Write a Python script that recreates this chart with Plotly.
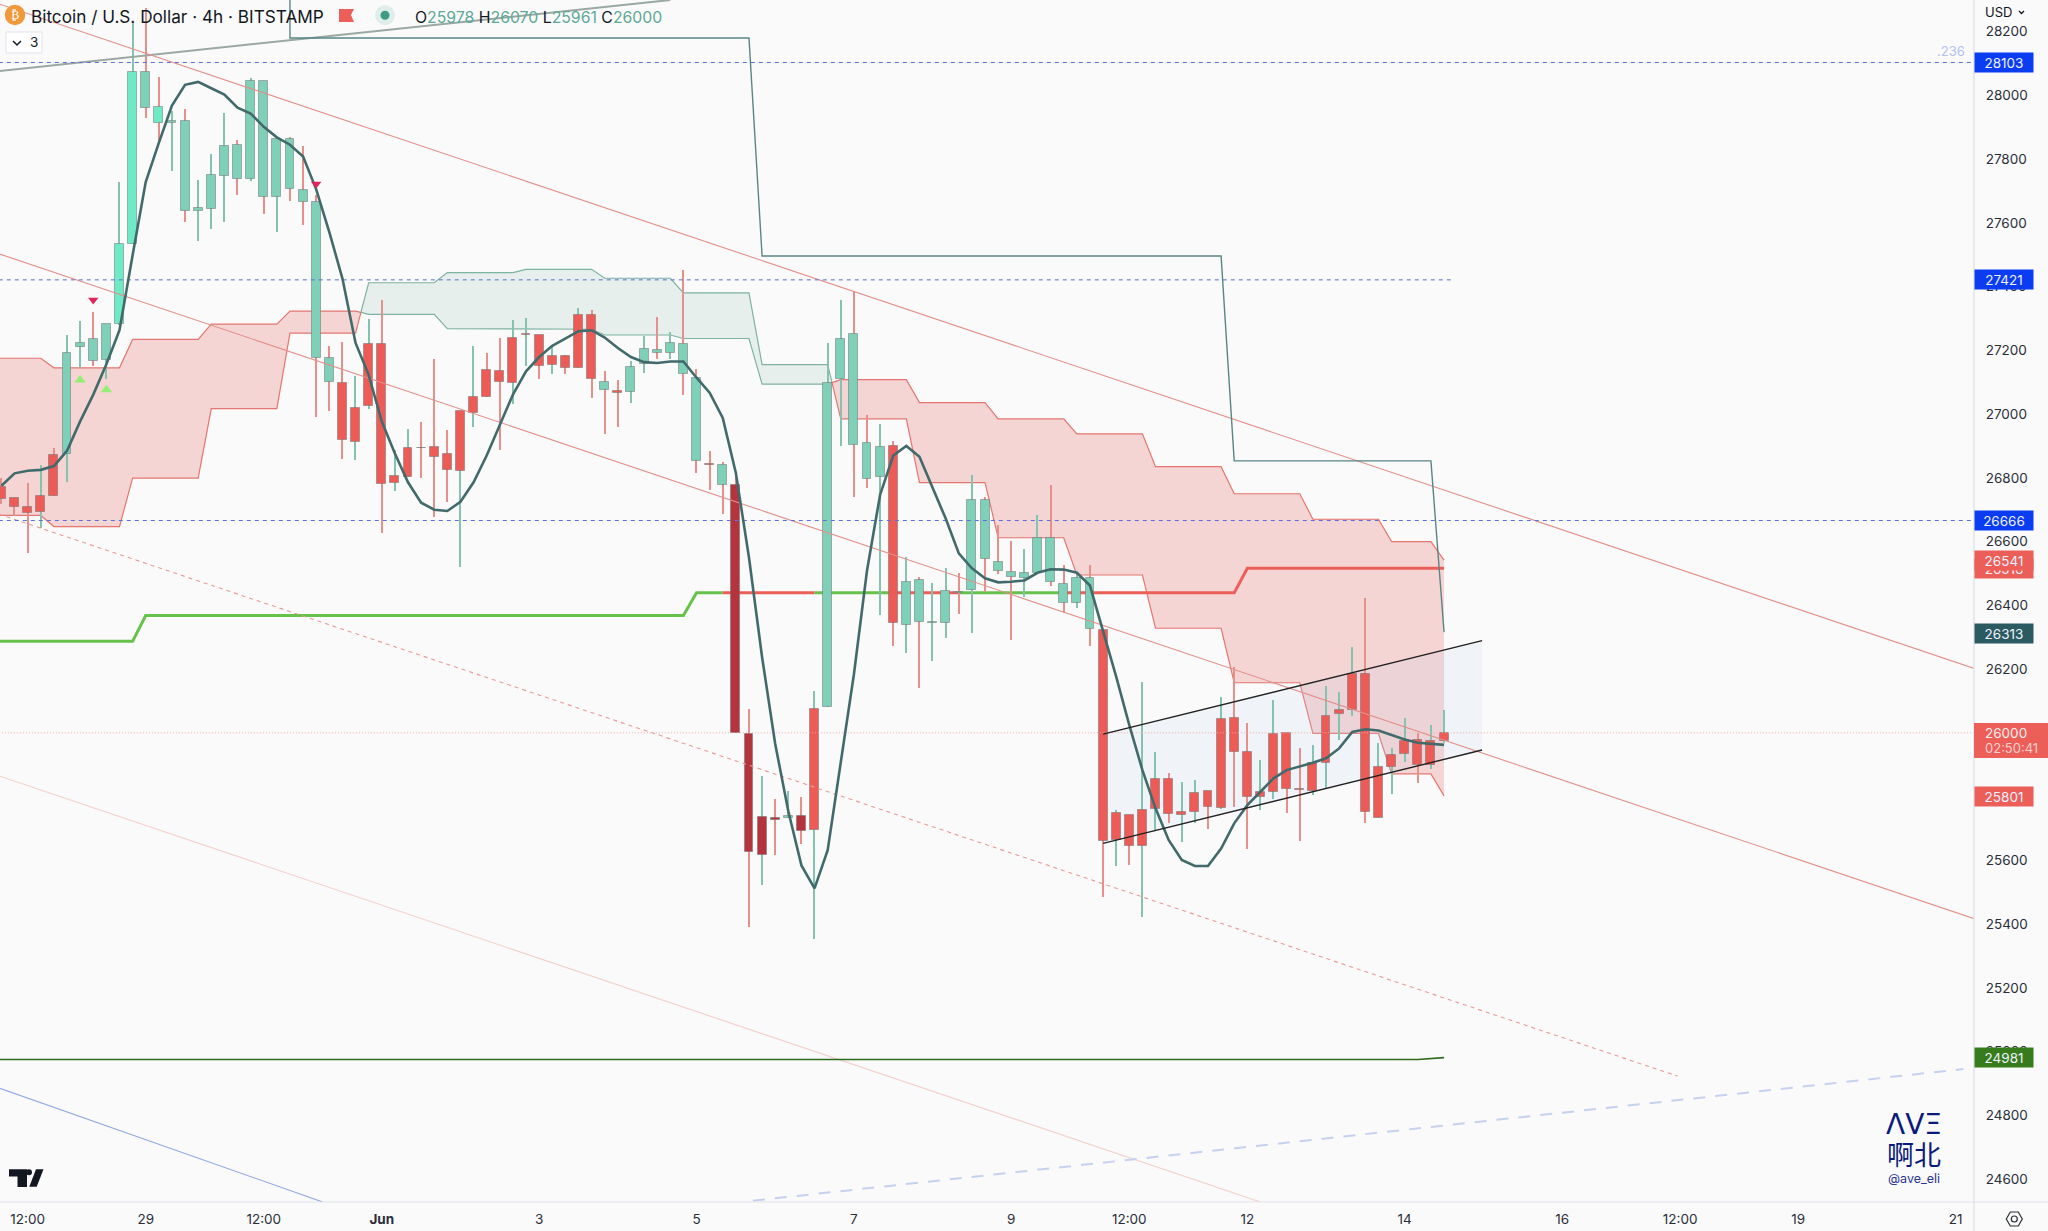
import plotly.graph_objects as go

# ---------- candle data (prices) ----------
body_top = [26770,26736,26707,26742,26872,27192,27222,27235,27281,27532,28072,28072,27963,27919,27920,27648,27750,27840,27843,28044,
            28044,27862,27862,27702,27665,27175,27098,27020,27219,27219,26807,26894,26895,26898,26876,27011,27055,27138,27136,27239,
            27250,27248,27183,27181,27311,27311,27102,27071,27147,27203,27201,27223,27221,27113,26842,26840,26777,25996,25736,25732,
            25738,25740,26074,27098,27234,27251,26908,26897,26900,26472,26479,26349,26444,26442,26730,26730,26535,26506,26501,26612,
            26612,26468,26485,26485,26324,25747,25743,25758,25855,25855,25752,25812,25817,26043,26046,25939,25814,25996,26000,25825,
            25904,26053,26070,26186,26184,25894,25930,25975,25976,25975,26000]
body_bot = [26734,26708,26691,26693,26742,26874,27211,27165,27171,27281,27532,27960,27912,27912,27638,27638,27642,27748,27739,27738,
            27681,27681,27706,27664,27176,27102,26919,26912,27024,26782,26784,26804,26892,26866,26825,26820,27004,27055,27100,27096,
            27248,27151,27153,27145,27145,27109,27076,27067,27069,27156,27190,27193,27126,26852,26840,26776,25999,25625,25617,25728,
            25734,25693,25695,26080,27109,26904,26796,26802,26346,26339,26349,26346,26346,26438,26449,26544,26509,26490,26485,26500,
            26472,26406,26406,26325,25661,25664,25645,25645,25760,25744,25741,25752,25768,25764,25941,25799,25799,25815,25825,25820,
            25818,25906,26060,26071,25752,25733,25894,25933,25899,25899,25975]
wick_high = [26798,26736,26784,26840,26893,27248,27291,27319,27281,27728,28230,28274,28058,27952,27957,27733,27817,27943,27859,28055,
             28044,27862,27870,27842,27688,27212,27227,27120,27298,27358,26887,26954,26975,27173,26949,27011,27214,27190,27240,27296,
             27302,27248,27218,27184,27333,27326,27134,27106,27167,27246,27304,27257,27451,27142,26883,26849,26815,26074,25863,25792,
             25818,25799,26131,27223,27357,27387,26996,26968,26914,26550,26489,26471,26516,26500,26808,26740,26652,26602,26577,26682,
             26778,26525,26495,26527,26324,25758,25743,26159,25941,25873,25847,25852,25817,26113,26207,26030,25915,26103,26000,25951,
             25961,26147,26129,26270,26422,25967,25952,26045,25998,26024,26071]
wick_low = [26719,26680,26565,26641,26742,26786,27145,27151,27111,27279,27532,27929,27851,27763,27604,27543,27582,27604,27686,27730,
            27629,27571,27669,27593,26990,27010,26859,26857,27016,26627,26758,26804,26798,26677,26725,26521,26960,27055,26887,27033,
            27151,27111,27125,27126,27145,27050,26938,26960,27035,27128,27173,27173,27061,26815,26761,26686,25999,25391,25523,25617,
            25734,25652,25353,26080,26900,26740,26768,26370,26271,26251,26142,26226,26296,26373,26312,26441,26498,26291,26427,26500,
            26461,26377,26393,26271,25484,25582,25584,25423,25695,25718,25658,25716,25697,25761,25768,25635,25758,25791,25747,25660,
            25805,25826,25979,26053,25718,25733,25808,25909,25841,25888,25967]
# r red, t teal, b bright green, d dark red
body_kind = ("rrrrrttttbbtbttttttttttttt" + "r"*20 + "t" + "r" + "tttttt" + "r" + "t" + "dddd" + "t" + "d" + "r" + "ttttt" + "r" + "t"*15 + "r"*27)
wick_kind = ("rrrgrggrgg" "grrgrgggrg" "rgrrrrrggr" "ggrrrggrrg" "grgrgrrrgg" "rgrrrrrrgr"
             "grgggrrgrg" "rggrgrrrgg" "rrgrrgrggr" "ggrgrrggrr" "ggggrgggrgg")

tenkan = [26775,26814,26822,26825,26837,26885,26977,27061,27156,27263,27498,27728,27851,27968,28033,28042,28022,28002,27961,27943,
          27901,27868,27845,27808,27705,27571,27425,27223,27123,26977,26876,26786,26722,26700,26696,26725,26786,26870,26966,27061,
          27134,27179,27214,27238,27260,27263,27240,27207,27179,27163,27160,27165,27165,27114,27067,26988,26815,26550,26237,25965,
          25754,25584,25512,25632,25910,26183,26509,26747,26870,26900,26866,26768,26672,26563,26516,26485,26472,26474,26478,26502,
          26513,26512,26502,26462,26322,26176,26024,25883,25763,25664,25601,25582,25582,25637,25716,25773,25815,25857,25883,25894,
          25906,25920,25951,26003,26011,26007,25993,25979,25969,25965,25962]

senkou_a = [26682,26682,26682,26682,26647,26647,26647,26647,26647,26647,26799,26799,26799,26799,26799,26799,27017,27017,27017,27017,
            27017,27017,27254,27254,27254,27254,27254,27254,27412,27412,27412,27412,27412,27412,27444,27444,27444,27444,27444,27444,
            27454,27454,27454,27454,27454,27454,27426,27426,27426,27426,27426,27426,27380,27380,27380,27380,27380,27380,27155,27155,
            27155,27155,27155,27155,26985,26985,26985,26985,26985,26985,26785,26785,26785,26785,26785,26785,26612,26612,26612,26612,
            26612,26612,26495,26495,26495,26495,26495,26495,26328,26328,26328,26328,26328,26328,26157,26157,26157,26157,26157,26157,
            25998,25998,25998,25998,25998,25998,25871,25871,25871,25871,25802]
senkou_b = [27175,27175,27175,27175,27145,27145,27145,27145,27145,27145,27234,27234,27234,27234,27234,27234,27282,27282,27282,27282,
            27282,27282,27323,27323,27323,27323,27323,27323,27313,27313,27313,27313,27313,27313,27268,27268,27268,27268,27268,27268,
            27266,27266,27266,27266,27266,27266,27248,27248,27248,27248,27248,27248,27237,27237,27237,27237,27237,27237,27094,27094,
            27094,27094,27094,27094,27108,27108,27108,27108,27108,27108,27036,27036,27036,27036,27036,27036,26985,26985,26985,26985,
            26985,26985,26938,26938,26938,26938,26938,26938,26835,26835,26835,26835,26835,26835,26750,26750,26750,26750,26750,26750,
            26670,26670,26670,26670,26670,26670,26600,26600,26600,26600,26542]
kijun = [26287]*11 + [26368]*42 + [26439]*42 + [26516]*16
kijun_kind = "g"*55 + "r"*7 + "g"*6 + "r"*5 + "g"*8 + "r"*30

step_x = [22, 22, 57, 58, 93, 94, 109, 110]
step_y = [28400, 28180, 28180, 27496, 27496, 26853, 26853, 26316]
long_ma_x = [-0.2, 108, 110]
long_ma_y = [24975, 24975, 24981]

grey_x, grey_y = [-0.2, 51], [28076, 28299]
t1_x, t1_y = [-0.2, 150.5], [28287, 26201]
t2_x, t2_y = [-0.2, 150.5], [27503, 25416]
t3_x, t3_y = [-0.2, 127.8], [26686, 24923]
t4_x, t4_y = [-0.2, 96], [25865, 24528]
t5_x, t5_y = [-0.2, 24.5], [24886, 24528]
t6_x, t6_y = [57.3, 149.6], [24532, 24945]

fib_levels = [28103, 27421, 26666]
fib_ends = [150.5, 110.8, 150.5]
last_price = 26000
chan_x = [84, 112.9]
chan_upper = [25996, 26289]
chan_lower = [25653, 25946]

sell_x, sell_y = [7, 24], [27358, 27722]
buy_x, buy_y = [6, 8], [27107, 27076]

y_ticks = [28200,28000,27800,27600,27400,27200,27000,26800,26600,26400,26200,26000,25800,25600,25400,25200,25000,24800,24600]
x_ticks = [2, 11, 20, 29, 41, 53, 65, 77, 86, 95, 107, 119, 128, 137, 149]
x_labels = ["12:00","29","12:00","<b>Jun</b>","3","5","7","9","12:00","12","14","16","12:00","19","21"]

tag_prices = [28103, 27421, 26666, 26516, 26541, 26313, 25801, 24981]
tag_colors = ["#0a3cf2","#0a3cf2","#0a3cf2","#ec5f59","#ec5f59","#2b5a60","#ec5f59","#367c1c"]

# ---------- styling ----------
BG = "#fafafa"
FONT = "Inter"
W, H, PW, PH = 2048, 1231, 1974, 1202
XR = [-0.111, 150.41]
YR = [24528, 28299]
body_colors = {"r": "#ec5b56", "t": "#7fd0b9", "b": "#6feac6", "d": "#b5333c"}
wick_colors = {"r": "#e6908b", "g": "#86c2b0"}
RED_LINE, GREEN_LINE = "#e4766f", "#7db3a0"
RED_FILL, GREEN_FILL = "rgba(232,110,110,0.27)", "rgba(125,179,160,0.15)"

def px(x): return x / PW
def py(y): return 1 - y / PH

fig = go.Figure()
idx = list(range(len(body_top)))

def line(x, y, color, width, dash=None, ax=2, **kw):
    fig.add_trace(go.Scatter(x=x, y=y, mode="lines", hoverinfo="skip",
                             line=dict(color=color, width=width, dash=dash),
                             xaxis="x" if ax == 1 else "x2", yaxis="y" if ax == 1 else "y2", **kw))

# ---------- cloud split at the crossings ----------
segs, ca, cb, cx = [], [senkou_a[0], senkou_a[0]], [senkou_b[0], senkou_b[0]], [-0.2, 0]
for k in range(len(idx) - 1):
    d0, d1 = senkou_b[k] - senkou_a[k], senkou_b[k + 1] - senkou_a[k + 1]
    if d0 * d1 < 0:
        t = d0 / (d0 - d1)
        v = senkou_a[k] + t * (senkou_a[k + 1] - senkou_a[k])
        cx.append(k + t); ca.append(v); cb.append(v)
        segs.append((cx, ca, cb, d0 > 0))
        cx, ca, cb = [k + t], [v], [v]
    cx.append(k + 1); ca.append(senkou_a[k + 1]); cb.append(senkou_b[k + 1])
segs.append((cx, ca, cb, senkou_b[-1] > senkou_a[-1]))
for sx, sa, sb, red in segs:
    fig.add_trace(go.Scatter(x=sx + sx[::-1], y=sa + sb[::-1], mode="lines", fill="toself",
                             fillcolor=RED_FILL if red else GREEN_FILL, line=dict(width=0),
                             hoverinfo="skip", xaxis="x", yaxis="y"))
    line(sx, sa, RED_LINE if red else GREEN_LINE, 1.2, ax=1)
    line(sx, sb, RED_LINE if red else GREEN_LINE, 1.2, ax=1)

# channel fill
fig.add_trace(go.Scatter(x=chan_x + chan_x[::-1], y=chan_upper + chan_lower[::-1], mode="lines", fill="toself",
                         fillcolor="rgba(190,205,240,0.17)", line=dict(width=0), hoverinfo="skip", xaxis="x", yaxis="y"))

# kijun, coloured by run
start = 0
for k in range(1, len(idx)):
    if k == len(idx) - 1 or kijun_kind[k] != kijun_kind[start]:
        xs = idx[start:k + 1]
        ys = kijun[start:k + 1]
        if start == 0:
            xs, ys = [-0.2] + xs, [ys[0]] + ys
        line(xs, ys, "#66c24a" if kijun_kind[start] == "g" else "#ec5f59", 3, ax=1)
        start = k

# ---------- candles ----------
fig.add_trace(go.Bar(x=idx, y=[h - l for h, l in zip(wick_high, wick_low)], base=wick_low, width=0.09,
                     marker=dict(color=[wick_colors[c] for c in wick_kind], line=dict(width=0)),
                     hoverinfo="skip", xaxis="x2", yaxis="y2"))
fig.add_trace(go.Bar(x=idx, y=[t - b for t, b in zip(body_top, body_bot)], base=body_bot, width=0.68,
                     marker=dict(color=[body_colors[c] for c in body_kind],
                                 line=dict(color="rgba(110,110,110,0.5)", width=1)),
                     hoverinfo="skip", xaxis="x2", yaxis="y2"))

# ---------- overlays ----------
line(grey_x, grey_y, "#9aa8a4", 2)
line(t1_x, t1_y, "#e38f8a", 1.1)
line(t2_x, t2_y, "#e38f8a", 1.1)
line(t3_x, t3_y, "#e79a95", 1.1, dash="4px,4px")
line(t4_x, t4_y, "#f3cfcb", 1.1)
line(t5_x, t5_y, "#8ea6e0", 1.1)
line(t6_x, t6_y, "#c6d0f0", 2, dash="12px,10px")
for lv, end in zip(fib_levels, fib_ends):
    line([-0.2, end], [lv, lv], "#5a70d8", 1, dash="4px,4px")
line([-0.2, 150.5], [last_price, last_price], "#f2a9a5", 1, dash="1px,2px")
line(long_ma_x, long_ma_y, "#2f6b1e", 1.6)
line(step_x, step_y, "#5a8585", 1.4)
line(idx, tenkan, "#426a6b", 2.6)
line(chan_x, chan_upper, "#222222", 1.4)
line(chan_x, chan_lower, "#222222", 1.4)
fig.add_trace(go.Scatter(x=sell_x, y=sell_y, mode="markers", hoverinfo="skip", xaxis="x2", yaxis="y2",
                         marker=dict(symbol="triangle-down", size=9, color="#e0245e")))
fig.add_trace(go.Scatter(x=buy_x, y=buy_y, mode="markers", hoverinfo="skip", xaxis="x2", yaxis="y2",
                         marker=dict(symbol="triangle-up", size=10, color="#93ee74")))

# ---------- annotations ----------
ann = []
def text(x, y, s, size=13, color="#131722", anchor="left", family=FONT):
    ann.append(dict(xref="paper", yref="paper", x=px(x), y=py(y), text=s, showarrow=False, xanchor=anchor,
                    yanchor="middle", font=dict(size=size, color=color, family=family), borderpad=0))

for p, c in zip(tag_prices, tag_colors):
    ann.append(dict(xref="paper", yref="y", x=1.0, y=p, text=str(p), showarrow=False, xanchor="left", yanchor="middle",
                    width=58, height=19, bgcolor=c, align="center", borderpad=0,
                    font=dict(size=13.5, color="#eef2ff", family=FONT)))

shapes = []
def rect(x0, y0, x1, y1, fill, line_c=None, lw=0):
    shapes.append(dict(type="rect", xref="paper", yref="paper", x0=px(x0), x1=px(x1), y0=py(y0), y1=py(y1),
                       fillcolor=fill, line=dict(color=line_c or fill, width=lw)))
def circle(cx_, cy_, r, fill):
    shapes.append(dict(type="circle", xref="paper", yref="paper", x0=px(cx_ - r), x1=px(cx_ + r), y0=py(cy_ - r), y1=py(cy_ + r),
                       fillcolor=fill, line=dict(width=0)))
def path(pts, fill=None, color=None, lw=0, close=True):
    d = "M" + " L".join(f"{px(a):.5f},{py(b):.5f}" for a, b in pts) + (" Z" if close else "")
    shapes.append(dict(type="path", xref="paper", yref="paper", path=d, fillcolor=fill or "rgba(0,0,0,0)",
                       line=dict(color=color or "rgba(0,0,0,0)", width=lw)))

# axis rules
shapes.append(dict(type="line", xref="paper", yref="paper", x0=1, x1=1, y0=py(H), y1=1, line=dict(color="#e0e3eb", width=1.5)))
shapes.append(dict(type="line", xref="paper", yref="paper", x0=0, x1=px(W), y0=0, y1=0, line=dict(color="#e0e3eb", width=1)))
# last-price tag
rect(1974, 723, 2048, 758, "#ec5f59")
text(1984, 732.5, "26000", 13.5, "#fdeeee")
text(1984, 748, "02:50:41", 13, "#f9cfcc")
# header
circle(15, 15, 10.2, "#f0983a")
text(15, 15, "₿", 12, "#ffffff", "center", "DejaVu Sans")
text(30, 16.5, "Bitcoin / U.S. Dollar · 4h · BITSTAMP", 17.2)
path([(339, 9), (354, 9), (351, 15), (354, 22), (339, 22)], fill="#ec5f59")
circle(385, 15.3, 10, "#dfeeea")
circle(385, 15.3, 4.5, "#3f9b85")
v = "#5fa896"
text(414, 18, f"O<span style='color:{v}'>25978</span> H<span style='color:{v}'>26070</span> "
              f"L<span style='color:{v}'>25961</span> C<span style='color:{v}'>26000</span>", 15.8)
rect(6, 32, 42, 53, "#ffffff", "#e0e3eb", 1)
path([(13, 41), (17, 45), (21, 41)], color="#131722", lw=1.5, close=False)
text(29, 42.5, "3", 13.5)
text(1984.5, 12.5, "USD", 13)
path([(2019, 11), (2021.5, 13.5), (2024, 11)], color="#131722", lw=1.3, close=False)
text(1966, 51, ".236", 13, "#b4c1f2", "right")
# TradingView logo
path([(9, 1169.3), (27, 1169.3), (27, 1187), (17.5, 1187), (17.5, 1176.5), (9, 1176.5)], fill="#131722")
circle(29, 1172.3, 3, "#131722")
path([(36, 1169.3), (43.5, 1169.3), (36.7, 1186.8), (29.3, 1186.8)], fill="#131722")
# watermark
text(1914, 1124, "ΛVΞ", 28, "#0a1a7a", "center", "DejaVu Sans")
text(1914, 1153, "啊北", 27, "#0a1a7a", "center", "Noto Sans CJK SC")
text(1914, 1178, "@ave_eli", 12.5, "#2a3590", "center")
# settings icon
cxs, cys = 2014.3, 1219
path([(cxs - 8, cys), (cxs - 4, cys - 7), (cxs + 4, cys - 7), (cxs + 8, cys), (cxs + 4, cys + 7), (cxs - 4, cys + 7)],
     color="#2a2e39", lw=1.2)
shapes.append(dict(type="circle", xref="paper", yref="paper", x0=px(cxs - 3), x1=px(cxs + 3), y0=py(cys - 3), y1=py(cys + 3),
                   line=dict(color="#2a2e39", width=1.2)))

axis_font = dict(size=13.5, color="#2a2e39", family=FONT)
fig.update_layout(
    width=W, height=H, margin=dict(l=0, r=W - PW, t=0, b=H - PH, pad=0, autoexpand=False),
    paper_bgcolor=BG, plot_bgcolor=BG, showlegend=False, barmode="overlay", bargap=0,
    font=dict(family=FONT), annotations=ann, shapes=shapes,
    xaxis=dict(range=XR, tickmode="array", tickvals=x_ticks, ticktext=x_labels, showgrid=False, zeroline=False,
               showline=False, ticks="outside", ticklen=5, tickcolor="rgba(0,0,0,0)", tickfont=axis_font),
    yaxis=dict(range=YR, side="right", tickmode="array", tickvals=y_ticks, ticktext=[str(t) for t in y_ticks],
               showgrid=False, zeroline=False, showline=False, ticks="outside", ticklen=8,
               tickcolor="rgba(0,0,0,0)", tickfont=axis_font),
    xaxis2=dict(range=XR, overlaying="x", visible=False, showgrid=False, zeroline=False),
    yaxis2=dict(range=YR, overlaying="y", visible=False, showgrid=False, zeroline=False),
)
fig.write_html("out.html", config=dict(displayModeBar=False),
               post_script="document.body.style.margin='0';document.body.style.overflow='hidden';")
